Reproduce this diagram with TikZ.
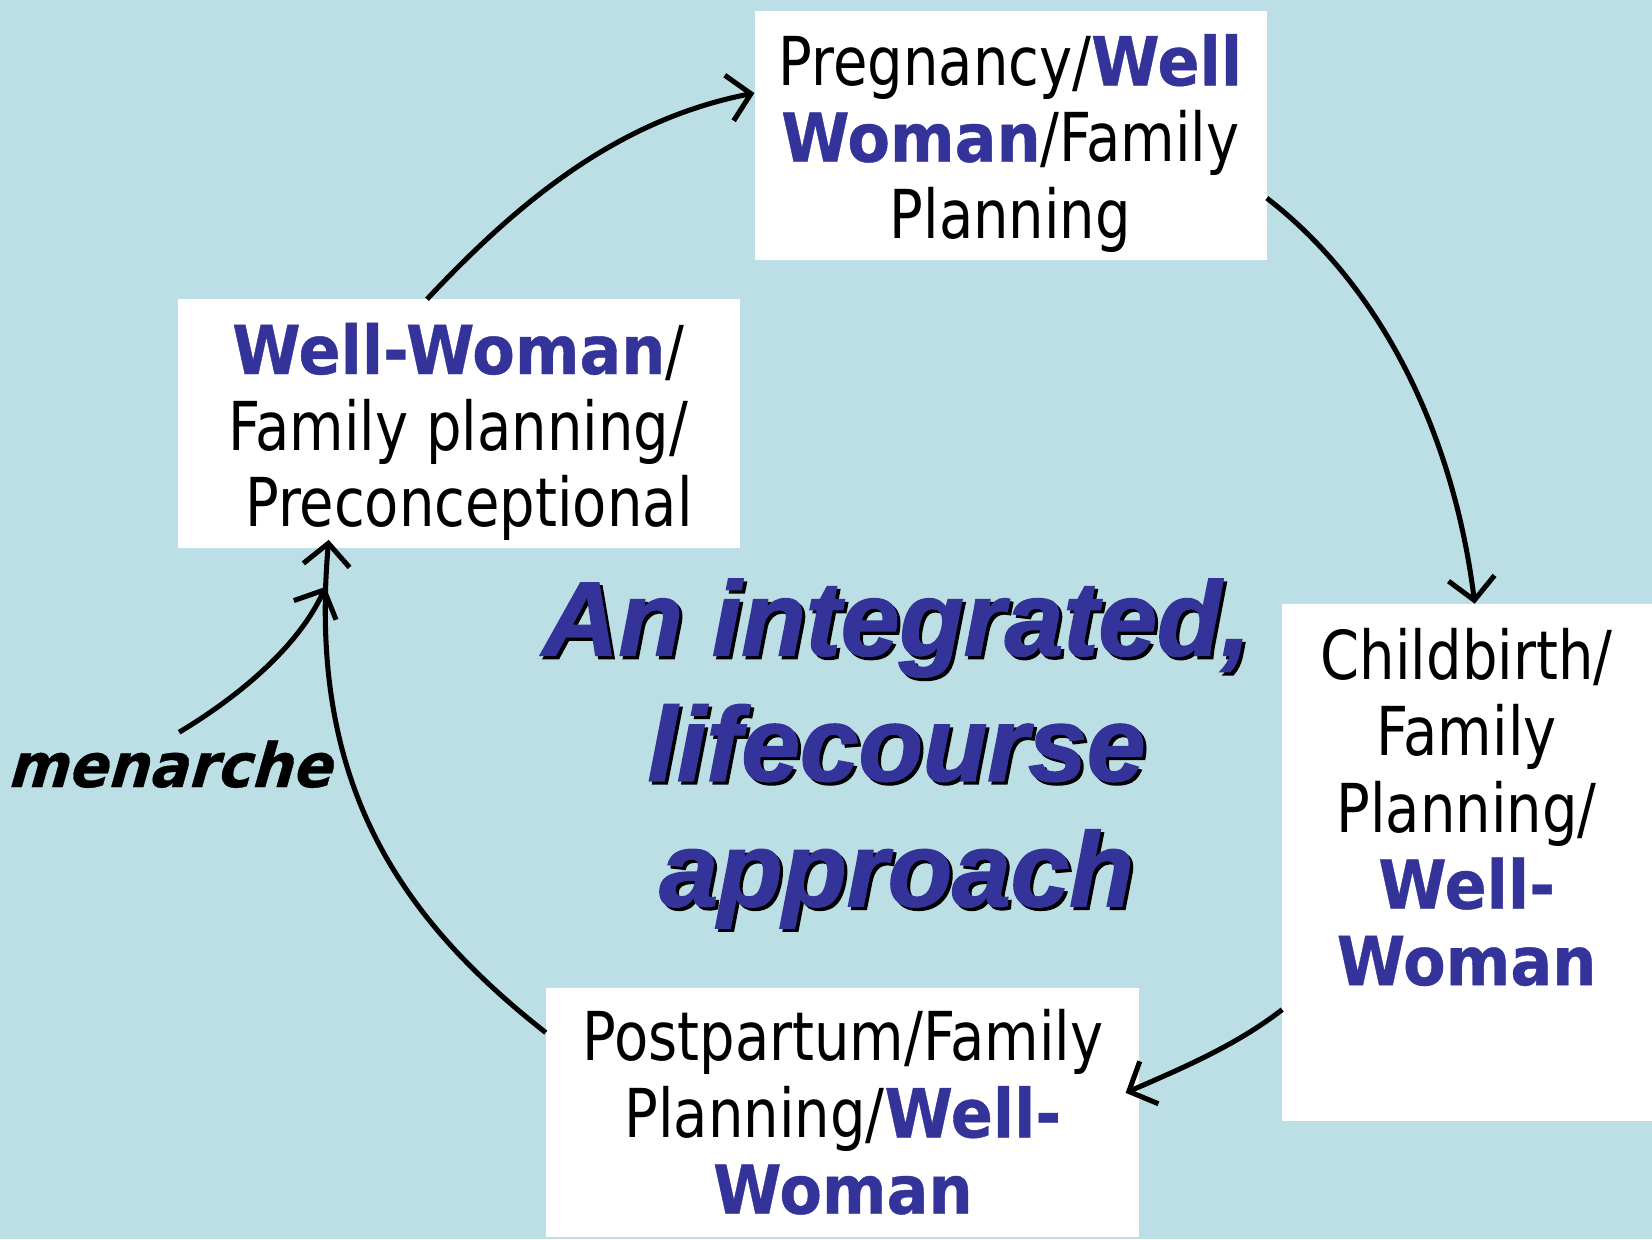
\documentclass[tikz,border=0pt]{standalone}
\usepackage{fontspec}
\usetikzlibrary{arrows.meta,calc}
\newfontfamily\rfont{DejaVu Sans}[FakeStretch=0.83]
\newfontfamily\bfont{DejaVu Sans}[FakeStretch=0.92,FakeBold=0.6]
\newfontfamily\mfont{DejaVu Sans}[FakeStretch=0.95,FakeSlant=0.1,FakeBold=0.6]
\newfontfamily\cfont{Liberation Sans}[FakeBold=1.6]
\definecolor{bgblue}{RGB}{187,223,228}
\definecolor{wwblue}{RGB}{51,51,153}
\newcommand{\ww}[1]{{\bfont\bfseries\color{wwblue}#1}}
\begin{document}
\begin{tikzpicture}[x=1pt,y=-1pt,
  box/.style={fill=white,draw=none,inner sep=0pt,anchor=north west},
  boxtext/.style={align=center,anchor=base,inner sep=0pt,font=\rfont\fontsize{64}{72.5}\selectfont},
  cyc/.style={line width=4.8pt,-{Straight Barb[length=21pt,width=44pt,sharp]}},
  big/.style={align=center,anchor=base,inner sep=0pt,font=\cfont\bfseries\itshape\fontsize{100}{119}\selectfont}]
\useasboundingbox (0,0) rectangle (1568,1176);
\fill[bgblue] (0,0) rectangle (1568,1176);
% boxes
\node[box,minimum width=486pt,minimum height=237pt] (tb) at (716,10) {};
\node[box,minimum width=533pt,minimum height=236pt] (lb) at (169,284) {};
\node[box,minimum width=351pt,minimum height=491pt] (rb) at (1217,573) {};
\node[box,minimum width=563pt,minimum height=236pt] (bb) at (518,938) {};
% box texts
\node[boxtext] (tbt) at (959,226) {Pregnancy/\ww{Well}\\\ww{Woman}/Family\\Planning};
\node[boxtext] (lbt) at (435,500) {\ww{Well-Woman}/\\Family planning/\\\hspace*{20pt}Preconceptional};
\node[boxtext] (rbt) at (1392,935) {Childbirth/\\Family\\Planning/\\\ww{Well-}\\\ww{Woman}};
\node[boxtext] (bbt) at (800,1152) {Postpartum/Family\\Planning/\ww{Well-}\\\ww{Woman}};
% central text with shadow
\node[big,text=black] (cts) at (854,863) {An integrated,\\lifecourse\\approach};
\node[big,text=wwblue] (ct) at (851,860) {An integrated,\\lifecourse\\approach};
% menarche
\node[anchor=base west,inner sep=0pt,font=\mfont\bfseries\itshape\fontsize{58}{60}\selectfont] (men) at (9,747) {menarche};
% connectors
\coordinate (a1s) at ($(lb.north west)!0.443!(lb.north east)$);
\coordinate (a1e) at ($(tb.north west)!0.33!(tb.south west)$);
\coordinate (a2s) at ($(tb.north east)!0.75!(tb.south east)$);
\coordinate (a2e) at ($(rb.north west)!0.52!(rb.north east)$);
\coordinate (a3s) at ($(rb.north west)!0.784!(rb.south west)$);
\coordinate (a3e) at ($(bb.north east)!0.42!(bb.south east)+(-13,0)$);
\coordinate (a4s) at ($(bb.north west)!0.178!(bb.south west)$);
\coordinate (a4e) at ($(lb.south west)!0.268!(lb.south east)+(0,-8)$);
\coordinate (m0) at (170,695);
\coordinate (m1) at (309,557);
\draw[cyc] (a1s) .. controls +(89,-95) and +(-128,25) .. (a1e);
\draw[cyc] (a2s) .. controls +(110,85) and +(-20,-160) .. (a2e);
\draw[cyc] (a3s) .. controls +(-45,35) and +(50,-22) .. (a3e);
\draw[cyc] (a4s) .. controls +(-140,-110) and +(-20,230) .. (a4e);
\draw[cyc] (m0) .. controls +(60,-36) and +(-25,55) .. (m1);
\end{tikzpicture}
\end{document}
